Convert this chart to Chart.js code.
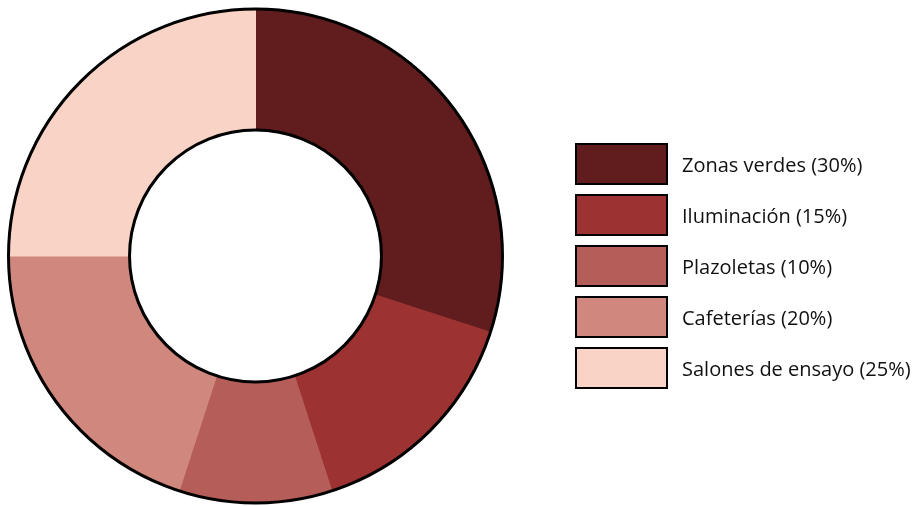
<!DOCTYPE html>
<html>
<head>
<meta charset="utf-8">
<script src="https://cdn.jsdelivr.net/npm/chart.js@4/dist/chart.umd.min.js"></script>
<style>
    html, body { margin: 0; padding: 0; background: #fff; }
    #wrap { position: relative; width: 913px; height: 506px; }
    #chart { position: absolute; left: 0; top: 0; }
    #legend {
        position: absolute; left: 575px; top: 143px;
        list-style: none; margin: 0; padding: 0;
        font-family: 'Open Sans', sans-serif; font-size: 20px; color: #111;
        white-space: nowrap;
    }
    #legend li { display: flex; align-items: center; height: 42px; margin-bottom: 9px; }
    #legend .box { width: 89px; height: 38px; border: 2px solid #000; margin-right: 14px; }
</style>
</head>
<body>
<div id="wrap">
    <canvas id="chart" width="913" height="506"></canvas>
    <ul id="legend"></ul>
</div>
<script>
// Data
const categories = ['Zonas verdes', 'Iluminación', 'Plazoletas', 'Cafeterías', 'Salones de ensayo'];
const shares = [30, 15, 10, 20, 25];
const colors = ['#611d1e', '#9c3231', '#b45d59', '#d0877d', '#f9d3c5'];

// Black rim on outer and inner edge of the ring only (no lines between slices)
const ringOutline = {
    id: 'ringOutline',
    afterDatasetsDraw(chart) {
        const arc = chart.getDatasetMeta(0).data[0];
        if (!arc) return;
        const { x, y, outerRadius, innerRadius } = arc.getProps(['x', 'y', 'outerRadius', 'innerRadius'], true);
        const ctx = chart.ctx;
        ctx.save();
        ctx.strokeStyle = '#000';
        ctx.lineWidth = 3;
        ctx.beginPath();
        ctx.arc(x, y, outerRadius, 0, Math.PI * 2);
        ctx.stroke();
        ctx.beginPath();
        ctx.arc(x, y, innerRadius, 0, Math.PI * 2);
        ctx.stroke();
        ctx.restore();
    }
};

const chart = new Chart(document.getElementById('chart'), {
    type: 'doughnut',
    data: {
        labels: categories,
        datasets: [{
            data: shares,
            backgroundColor: colors,
            borderColor: colors,
            borderWidth: 1,
            hoverOffset: 0
        }]
    },
    options: {
        responsive: false,
        animation: false,
        cutout: '51%',
        layout: { padding: { left: 8, top: 8, bottom: 2, right: 410 } },
        plugins: {
            legend: { display: false },
            tooltip: { enabled: false }
        }
    },
    plugins: [ringOutline]
});

// Legend built from the same arrays
const legend = document.getElementById('legend');
categories.forEach((name, i) => {
    const li = document.createElement('li');
    const box = document.createElement('span');
    box.className = 'box';
    box.style.background = colors[i];
    li.appendChild(box);
    li.appendChild(document.createTextNode(name + ' (' + shares[i] + '%)'));
    legend.appendChild(li);
});
</script>
</body>
</html>
